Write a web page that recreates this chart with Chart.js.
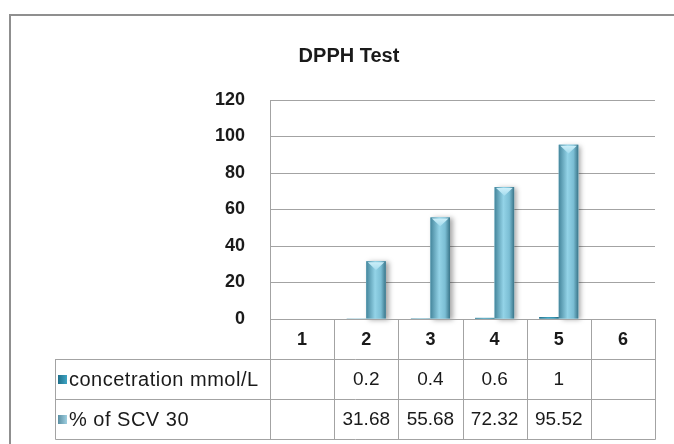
<!DOCTYPE html>
<html>
<head>
<meta charset="utf-8">
<title>DPPH Test</title>
<script src="https://cdn.jsdelivr.net/npm/chart.js@4.4.1/dist/chart.umd.min.js"></script>
<style>
  html, body { margin: 0; padding: 0; background: #ffffff; }
  #wrap { position: relative; width: 674px; height: 444px; overflow: hidden; }
  canvas { display: block; }
</style>
</head>
<body>
<div id="wrap"><canvas id="chart" width="674" height="444"></canvas></div>
<script>
// ---- data ----
const chartTitle = 'DPPH Test';
const categories = ['1', '2', '3', '4', '5', '6'];
const seriesNames = ['concetration mmol/L', '% of SCV 30'];
const concentration = [null, 0.2, 0.4, 0.6, 1, null];
const scv30 = [null, 31.68, 55.68, 72.32, 95.52, null];
const yMin = 0;
const yMax = 120;
const yStep = 20;

// ---- styling ----
const FONT = '"Liberation Sans", Arial, sans-serif';
const LINE = '#a3a3a3';
const TEXT = '#1a1a1a';
const seriesStyles = [
  { flat: '#2b86a3', stops: ['#1d6a84', '#3aa0bf', '#2c8fae', '#1a5d74'], swatch: ['#1f6f8a', '#3ea5c4'] },
  { flat: '#7fc3d9', stops: ['#45869c', '#93d3e7', '#7bbed4', '#3a7589'], swatch: ['#5a8fa3', '#9fcfe0'] }
];
const ROW_H = 40;
const TABLE_LEFT = 55;

const dataTablePlugin = {
  id: 'dataTable',
  beforeDraw(chart) {
    const { ctx } = chart;
    ctx.save();
    // chart frame
    ctx.strokeStyle = '#8f8f8f';
    ctx.lineWidth = 2;
    ctx.strokeRect(10, 15, 720, 480);
    // title
    ctx.fillStyle = TEXT;
    ctx.font = 'bold 20px ' + FONT;
    ctx.textAlign = 'center';
    ctx.textBaseline = 'middle';
    ctx.fillText(chartTitle, 349, 56);
    ctx.restore();
  },
  beforeDatasetsDraw(chart) {
    // soft shadow to the right of each column
    const { ctx } = chart;
    ctx.save();
    chart.data.datasets.forEach((ds, di) => {
      const meta = chart.getDatasetMeta(di);
      meta.data.forEach((el, i) => {
        if (ds.data[i] == null) return;
        const { x, y, base, width } = el.getProps(['x', 'y', 'base', 'width'], true);
        if (base - y < 4) return;
        ctx.shadowColor = 'rgba(0,0,0,0.35)';
        ctx.shadowBlur = 5;
        ctx.shadowOffsetX = 3;
        ctx.shadowOffsetY = 1;
        ctx.fillStyle = '#ffffff';
        ctx.fillRect(x - width / 2, y, width, base - y);
      });
    });
    ctx.restore();
  },
  afterDatasetsDraw(chart) {
    // shaded column faces with a bevelled top
    const { ctx } = chart;
    ctx.save();
    chart.data.datasets.forEach((ds, di) => {
      const st = seriesStyles[di];
      const meta = chart.getDatasetMeta(di);
      meta.data.forEach((el, i) => {
        if (ds.data[i] == null) return;
        const { x, y, base, width } = el.getProps(['x', 'y', 'base', 'width'], true);
        const l = x - width / 2, r = x + width / 2, h = base - y;
        const g = ctx.createLinearGradient(l, 0, r, 0);
        g.addColorStop(0, st.stops[0]);
        g.addColorStop(0.45, st.stops[1]);
        g.addColorStop(0.75, st.stops[2]);
        g.addColorStop(1, st.stops[3]);
        ctx.fillStyle = g;
        ctx.fillRect(l, y, width, h);
        if (h > 12) {
          const tg = ctx.createLinearGradient(0, y, 0, y + width * 0.45);
          tg.addColorStop(0, '#d2f1fa');
          tg.addColorStop(1, '#a4dcee');
          ctx.fillStyle = tg;
          ctx.beginPath();
          ctx.moveTo(l + 1.5, y + 1);
          ctx.lineTo(r - 1.5, y + 1);
          ctx.lineTo(x, y + width * 0.45);
          ctx.closePath();
          ctx.fill();
        }
      });
    });
    ctx.restore();
  },
  afterDraw(chart) {
    const { ctx, chartArea } = chart;
    const xs = chart.scales.x;
    const n = categories.length;
    const step = xs.getPixelForValue(1) - xs.getPixelForValue(0);
    const bounds = [];
    for (let i = 0; i <= n; i++) bounds.push(xs.getPixelForValue(0) - step / 2 + i * step);
    const top = chartArea.bottom;
    const rows = [top, top + ROW_H, top + 2 * ROW_H, top + 3 * ROW_H];
    const left = Math.round(bounds[0]) + 0.5;
    const right = Math.round(bounds[n]) + 0.5;

    ctx.save();
    ctx.strokeStyle = LINE;
    ctx.lineWidth = 1;
    ctx.beginPath();
    // header row
    ctx.moveTo(left, Math.round(rows[0]) + 0.5);
    ctx.lineTo(right, Math.round(rows[0]) + 0.5);
    for (let r = 1; r < rows.length; r++) {
      const yy = Math.round(rows[r]) + 0.5;
      ctx.moveTo(TABLE_LEFT + 0.5, yy);
      ctx.lineTo(right, yy);
    }
    // vertical separators
    bounds.forEach(b => {
      const xx = Math.round(b) + 0.5;
      ctx.moveTo(xx, rows[0]);
      ctx.lineTo(xx, rows[3] + 0.5);
    });
    ctx.moveTo(TABLE_LEFT + 0.5, rows[1]);
    ctx.lineTo(TABLE_LEFT + 0.5, rows[3] + 0.5);
    ctx.stroke();

    ctx.fillStyle = TEXT;
    ctx.textBaseline = 'middle';
    ctx.textAlign = 'center';
    // category header
    ctx.font = 'bold 18px ' + FONT;
    categories.forEach((c, i) => {
      ctx.fillText(c, xs.getPixelForValue(i), (rows[0] + rows[1]) / 2 + 1);
    });
    // series rows
    const seriesData = [concentration, scv30];
    seriesData.forEach((vals, si) => {
      const cy = (rows[si + 1] + rows[si + 2]) / 2 + 1;
      ctx.font = '19px ' + FONT;
      ctx.letterSpacing = '0px';
      vals.forEach((v, i) => {
        if (v == null) return;
        ctx.fillText(String(v), xs.getPixelForValue(i), cy);
      });
      // legend swatch
      const sw = seriesStyles[si].swatch;
      const sg = ctx.createLinearGradient(58, 0, 67, 0);
      sg.addColorStop(0, sw[0]);
      sg.addColorStop(1, sw[1]);
      ctx.fillStyle = sg;
      ctx.fillRect(58, cy - 5, 9, 9);
      ctx.fillStyle = TEXT;
      ctx.textAlign = 'left';
      ctx.font = '20px ' + FONT;
      ctx.letterSpacing = '0.5px';
      ctx.fillText(seriesNames[si], 69, cy);
      ctx.letterSpacing = '0px';
      ctx.textAlign = 'center';
    });
    ctx.restore();
  }
};

new Chart(document.getElementById('chart'), {
  type: 'bar',
  data: {
    labels: categories,
    datasets: [
      { label: seriesNames[0], data: concentration, backgroundColor: seriesStyles[0].flat },
      { label: seriesNames[1], data: scv30, backgroundColor: seriesStyles[1].flat }
    ]
  },
  options: {
    responsive: false,
    animation: false,
    devicePixelRatio: 1,
    categoryPercentage: 0.61,
    barPercentage: 1.0,
    layout: { padding: { top: 100, right: 19, bottom: 125, left: 0 } },
    plugins: {
      legend: { display: false },
      title: { display: false },
      tooltip: { enabled: false }
    },
    scales: {
      x: { display: false, offset: true },
      y: {
        min: yMin,
        max: yMax,
        afterFit(scale) { scale.width = 270; },
        ticks: {
          stepSize: yStep,
          padding: 25,
          color: TEXT,
          font: { family: FONT, size: 18, weight: 'bold' }
        },
        grid: { color: LINE, drawTicks: false },
        border: { display: true, color: LINE }
      }
    }
  },
  plugins: [dataTablePlugin]
});
</script>
</body>
</html>
